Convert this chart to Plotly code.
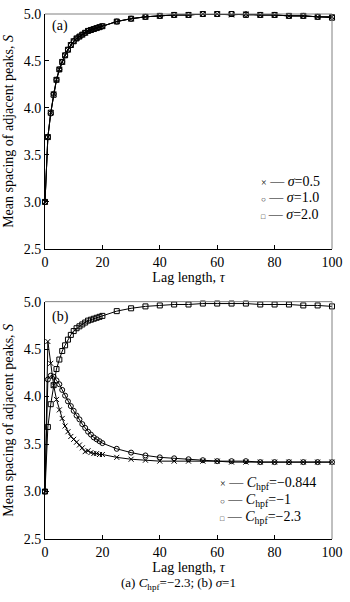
import plotly.graph_objects as go

# ---------------- data ----------------
tau = list(range(0, 21)) + list(range(25, 101, 5))

# panel (a): C_hpf = -2.3
s_a_sigma05 = [3.00, 3.69, 3.95, 4.15, 4.30, 4.41, 4.49, 4.56, 4.62, 4.67, 4.71, 4.74, 4.76, 4.78,
               4.80, 4.82, 4.83, 4.84, 4.85, 4.86, 4.87, 4.92, 4.95, 4.97, 4.98, 4.99, 4.99, 5.00,
               5.00, 4.99, 5.00, 4.99, 4.99, 4.98, 4.98, 4.97, 4.97]
s_a_sigma10 = [3.00, 3.69, 3.94, 4.15, 4.30, 4.41, 4.49, 4.56, 4.62, 4.67, 4.71, 4.74, 4.76, 4.78,
               4.80, 4.82, 4.83, 4.84, 4.85, 4.86, 4.87, 4.92, 4.95, 4.97, 4.98, 4.99, 4.99, 5.00,
               5.00, 5.00, 5.00, 4.99, 4.99, 4.98, 4.98, 4.97, 4.97]
s_a_sigma20 = [3.00, 3.69, 3.95, 4.14, 4.30, 4.41, 4.49, 4.56, 4.62, 4.67, 4.71, 4.74, 4.76, 4.78,
               4.80, 4.82, 4.83, 4.84, 4.85, 4.86, 4.87, 4.92, 4.95, 4.97, 4.98, 4.99, 4.99, 5.00,
               5.00, 5.00, 4.99, 4.99, 4.99, 4.98, 4.98, 4.97, 4.96]

# panel (b): sigma = 1
s_b_c0844 = [3.00, 4.58, 4.35, 4.12, 3.97, 3.86, 3.77, 3.69, 3.63, 3.58, 3.55, 3.52, 3.49, 3.46,
             3.42, 3.43, 3.41, 3.40, 3.40, 3.39, 3.39, 3.36, 3.34, 3.33, 3.32, 3.32, 3.32, 3.32,
             3.32, 3.31, 3.31, 3.31, 3.31, 3.31, 3.31, 3.31, 3.31]
s_b_c1 = [3.00, 4.18, 4.22, 4.21, 4.17, 4.13, 4.07, 4.01, 3.95, 3.90, 3.85, 3.80, 3.76, 3.71,
          3.67, 3.63, 3.60, 3.57, 3.55, 3.53, 3.51, 3.45, 3.41, 3.38, 3.36, 3.35, 3.34, 3.33,
          3.32, 3.32, 3.32, 3.31, 3.31, 3.31, 3.31, 3.31, 3.31]
s_b_c23 = [3.00, 3.68, 3.92, 4.12, 4.29, 4.39, 4.48, 4.54, 4.60, 4.65, 4.69, 4.72, 4.74, 4.76,
           4.78, 4.80, 4.81, 4.82, 4.83, 4.84, 4.85, 4.90, 4.93, 4.95, 4.96, 4.97, 4.97, 4.98,
           4.98, 4.98, 4.98, 4.97, 4.97, 4.97, 4.96, 4.96, 4.95]

y_ticks = [2.5, 3.0, 3.5, 4.0, 4.5, 5.0]
x_ticks = [0, 20, 40, 60, 80, 100]

FONT = "Liberation Serif"

fig = go.Figure()

def add(y, symbol, name, xa, ya):
    fig.add_trace(go.Scatter(
        x=tau, y=y, mode="lines+markers", name=name, showlegend=False,
        xaxis=xa, yaxis=ya, cliponaxis=False,
        line=dict(color="black", width=1),
        marker=dict(symbol=symbol, size=5, color="black",
                    line=dict(color="black", width=1)),
    ))

add(s_a_sigma05, "x-thin", "σ=0.5", "x", "y")
add(s_a_sigma10, "circle-open", "σ=1.0", "x", "y")
add(s_a_sigma20, "square-open", "σ=2.0", "x", "y")
add(s_b_c0844, "x-thin", "C=-0.844", "x2", "y2")
add(s_b_c1, "circle-open", "C=-1", "x2", "y2")
add(s_b_c23, "square-open", "C=-2.3", "x2", "y2")

axis_common = dict(showline=True, linecolor="black", linewidth=1, ticks="inside",
                   ticklen=4, tickcolor="black", showgrid=False, zeroline=False,
                   ticklabeloverflow="allow",
                   tickfont=dict(family=FONT, size=14, color="black"))

fig.update_layout(
    width=350, height=602,
    margin=dict(l=45, r=8, t=7, b=63),
    paper_bgcolor="white", plot_bgcolor="white",
    font=dict(family=FONT, size=14, color="black"),
    xaxis=dict(domain=[0, 1], range=[0, 100], tickvals=x_ticks, anchor="y",
               title=dict(text="Lag length, <i>τ</i>", standoff=2,
                          font=dict(family=FONT, size=14)), **axis_common),
    yaxis=dict(domain=[0.5526, 1], range=[2.5, 5.0], tickvals=y_ticks, tickformat=".1f",
               anchor="x",
               title=dict(text="Mean spacing of adjacent peaks, <i>S</i>", standoff=6,
                          font=dict(family=FONT, size=14)), **axis_common),
    xaxis2=dict(domain=[0, 1], range=[0, 100], tickvals=x_ticks, anchor="y2",
                title=dict(text="Lag length, <i>τ</i>", standoff=2,
                           font=dict(family=FONT, size=14)), **axis_common),
    yaxis2=dict(domain=[0, 0.4521], range=[2.5, 5.0], tickvals=y_ticks, tickformat=".1f",
                anchor="x2",
                title=dict(text="Mean spacing of adjacent peaks, <i>S</i>", standoff=6,
                           font=dict(family=FONT, size=14)), **axis_common),
)

# gray top/right frame lines
for xr, yr in [("x domain", "y domain"), ("x2 domain", "y2 domain")]:
    fig.add_shape(type="line", xref=xr, yref=yr, x0=0, x1=1, y0=1, y1=1,
                  line=dict(color="#808080", width=1))
    fig.add_shape(type="line", xref=xr, yref=yr, x0=1, x1=1, y0=0, y1=1,
                  line=dict(color="#808080", width=1))

ann = []
# panel labels
ann.append(dict(text="(a)", xref="x domain", yref="y domain", x=0.017, y=0.95,
                xanchor="left", yanchor="middle", showarrow=False,
                font=dict(family=FONT, size=14)))
ann.append(dict(text="(b)", xref="x2 domain", yref="y2 domain", x=0.017, y=0.935,
                xanchor="left", yanchor="middle", showarrow=False,
                font=dict(family=FONT, size=14)))

SYM_X = "<span style='font-size:10px'>×</span>"
SYM_O = "<span style='font-size:8px'>○</span>"
SYM_S = "<span style='font-size:7px'>□</span>"
# legends (text)
leg_a = [SYM_X + " — <i>σ</i>=0.5",
         SYM_O + " — <i>σ</i>=1.0",
         SYM_S + " — <i>σ</i>=2.0"]
for txt, yy in zip(leg_a, [0.285, 0.218, 0.145]):
    ann.append(dict(text=txt, xref="x domain", yref="y domain", x=0.745, y=yy,
                    xanchor="left", yanchor="middle", showarrow=False,
                    font=dict(family=FONT, size=14)))
leg_b = [SYM_X + " — <i>C</i><sub>hpf</sub>=−0.844",
         SYM_O + " — <i>C</i><sub>hpf</sub>=−1",
         SYM_S + " — <i>C</i><sub>hpf</sub>=−2.3"]
for txt, yy in zip(leg_b, [0.232, 0.162, 0.090]):
    ann.append(dict(text=txt, xref="x2 domain", yref="y2 domain", x=0.602, y=yy,
                    xanchor="left", yanchor="middle", showarrow=False,
                    font=dict(family=FONT, size=14)))

# caption
ann.append(dict(text="(a) <i>C</i><sub>hpf</sub>=−2.3; (b) <i>σ</i>=1", xref="paper", yref="paper",
                x=0.466, y=-0.0845, xanchor="center", yanchor="middle", showarrow=False,
                font=dict(family=FONT, size=13)))

fig.update_layout(annotations=ann)

fig.write_html("out.html")
